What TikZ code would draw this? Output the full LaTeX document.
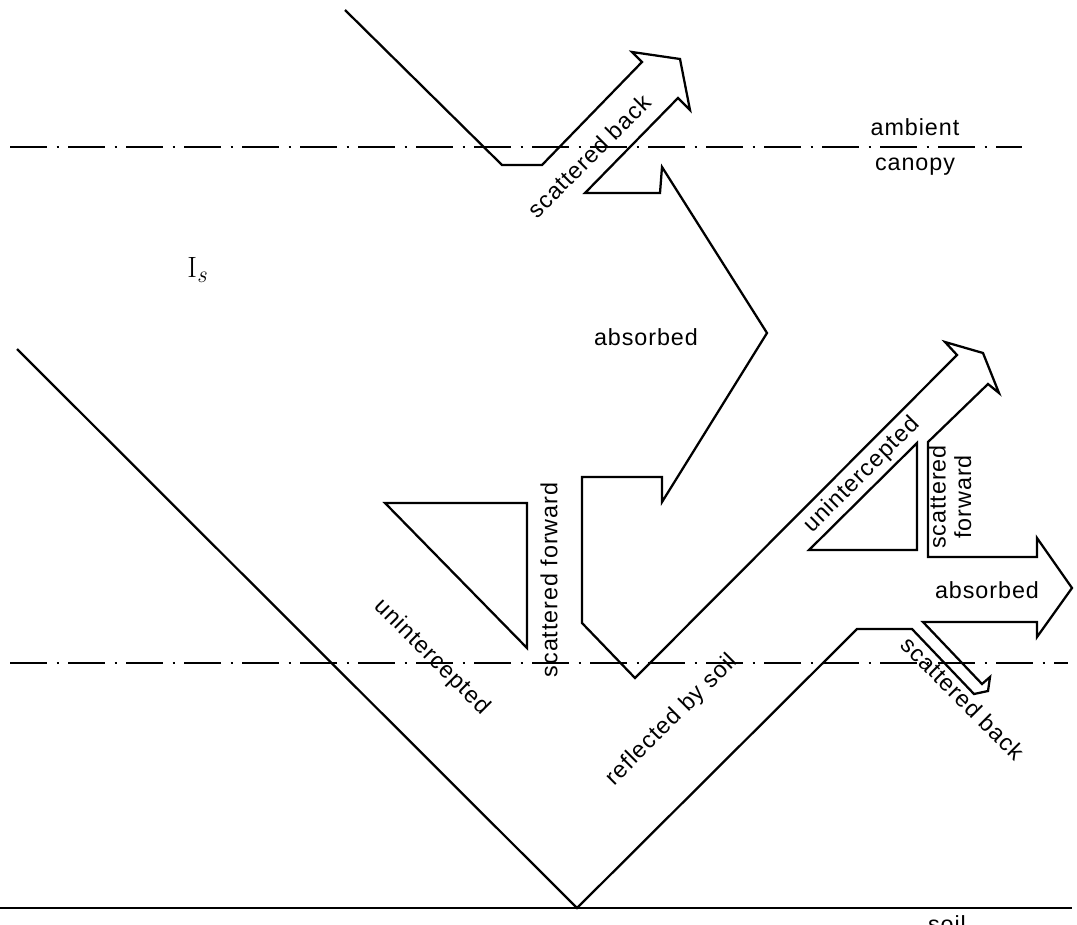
\documentclass[tikz,border=0pt]{standalone}
\usepackage{fontspec}
\newfontfamily\labfont[LetterSpace=4]{Liberation Sans}
\begin{document}
\begin{tikzpicture}[x=0.75pt,y=-0.75pt,
  beam/.style={line width=1.7pt,line join=miter,black},
  layer/.style={line width=1.5pt,dash pattern=on 28pt off 7pt on 1.5pt off 7pt},
  lab/.style={font=\labfont\fontsize{17.5}{20}\selectfont,inner sep=0pt},
  mlab/.style={lab,align=center,font=\labfont\fontsize{17.5}{19}\selectfont}]
\useasboundingbox (0,0) rectangle (1077,924);
% layer boundaries
\draw[layer] (10,147) -- (1022,147);
\draw[layer] (10,663) -- (1068,663);
\draw[line width=1.5pt] (0,908) -- (1072,908);
% main outline of the radiation flux
\draw[beam] (17,349) -- (577,908) -- (857,629) -- (912,629) -- (974,694)
  -- (988,691) -- (990,677) -- (982,684) -- (923,622) -- (1037,622)
  -- (1037,637) -- (1072,588) -- (1037,538) -- (1037,557) -- (928,557)
  -- (928,442) -- (988,384) -- (999,393) -- (983,353) -- (945,342)
  -- (957,355) -- (635,678) -- (582,623) -- (582,477) -- (662,477)
  -- (662,502) -- (767,333) -- (662,167) -- (660,193) -- (585,193)
  -- (678,98) -- (690,110) -- (680,59) -- (632,52) -- (642,62)
  -- (542,165) -- (502,165) -- (345,10);
% triangles
\draw[beam] (385,503) -- (527,503) -- (527,648) -- cycle;
\draw[beam] (809,550) -- (917,550) -- (917,443) -- cycle;
% labels
\node[lab] (amb) at (915,127) {ambient};
\node[lab] (can) at (915,167) {canopy};
\node[lab,anchor=north] (soil) at (947,915) {soil};
\node[inner sep=0pt,font=\fontsize{22}{26}\selectfont] (is) at (197,270)
  {I\raisebox{-0.4ex}{\fontsize{18}{20}\selectfont\textit{s}}};
\node[lab,rotate=45] (sb1) at (589,156) {scattered back};
\node[lab] (ab1) at (646,337) {absorbed};
\node[lab,rotate=90] (sf1) at (549,580) {scattered forward};
\node[lab,rotate=-45] (un1) at (432,657) {unintercepted};
\node[lab,rotate=45] (un2) at (862,475) {unintercepted};
\node[mlab,rotate=90] (sf2) at (950,497) {scattered\\forward};
\node[lab] (ab2) at (987,590) {absorbed};
\node[lab,rotate=45] (rs) at (672,720) {reflected by soil};
\node[lab,rotate=-45] (sb2) at (963,698) {scattered back};
\end{tikzpicture}
\end{document}
